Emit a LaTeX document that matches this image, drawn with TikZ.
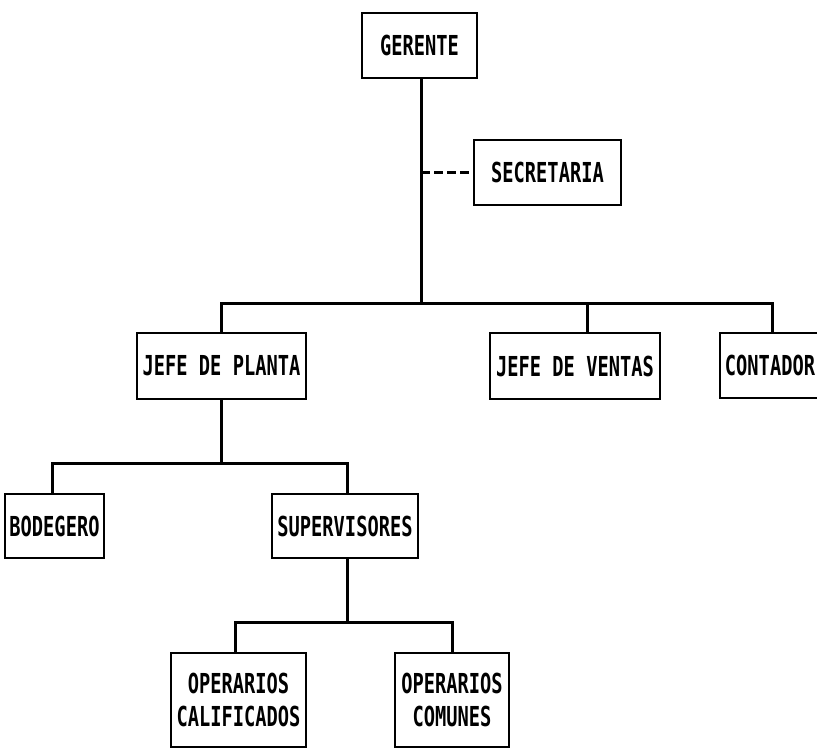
\documentclass[tikz,border=0pt]{standalone}
\usepackage{fontspec}
\newfontfamily\dotfont[FakeStretch=0.68]{DejaVu Sans Mono}
\usetikzlibrary{calc}
\begin{document}
\begin{tikzpicture}[x=1pt,y=-1pt,
  box/.style={draw=black,line width=1.8pt,rectangle,inner sep=0pt,align=center,
    font=\dotfont\bfseries\fontsize{27.5}{33}\selectfont},
  link/.style={line width=3pt,line cap=rect},
  dlink/.style={line width=3pt,dash pattern=on 9pt off 4pt}]
\useasboundingbox (0,0) rectangle (817,749);
% nodes
\node[box,minimum width=115pt,minimum height=65pt] (ger) at (419.5,45.5) {GERENTE};
\node[box,minimum width=147pt,minimum height=65pt] (sec) at (547.5,172.5) {SECRETARIA};
\node[box,minimum width=169pt,minimum height=66pt] (jp) at (221.5,366) {JEFE DE PLANTA};
\node[box,minimum width=170pt,minimum height=66pt] (jv) at (575,366) {JEFE DE VENTAS};
\node[box,minimum width=100pt,minimum height=65pt] (con) at (770,365.5) {CONTADOR};
\node[box,minimum width=99pt,minimum height=64pt] (bod) at (54.5,526) {BODEGERO};
\node[box,minimum width=146pt,minimum height=64pt] (sup) at (345,526) {SUPERVISORES};
\node[box,minimum width=135pt,minimum height=94pt] (opc) at (238.5,700) {OPERARIOS\\CALIFICADOS};
\node[box,minimum width=114pt,minimum height=94pt] (opm) at (452,700) {OPERARIOS\\COMUNES};
% bus levels
\coordinate (b1) at (421,303);
\coordinate (b2) at (222,463);
\coordinate (b3) at (347,622);
% connector attachment points
\coordinate (gs) at ($(ger.south)+(1.5,0)$);
\coordinate (jvn) at ($(jv.north)+(12,0)$);
\coordinate (cn) at ($(con.north)+(2,0)$);
\coordinate (bn) at ($(bod.north)+(-2.5,0)$);
\coordinate (sn) at ($(sup.north)+(2,0)$);
\coordinate (ss) at ($(sup.south)+(2,0)$);
\coordinate (ocn) at ($(opc.north)+(-3.5,0)$);
% level 1
\draw[link] (gs) -- (gs |- b1);
\draw[dlink] (gs |- sec.west) -- (sec.west);
\draw[link] (jp.north) -- (jp.north |- b1) -- (cn |- b1) -- (cn);
\draw[link] (jvn) -- (jvn |- b1);
% level 2
\draw[link] (jp.south) -- (jp.south |- b2);
\draw[link] (bn) -- (bn |- b2) -- (sn |- b2) -- (sn);
% level 3
\draw[link] (ss) -- (ss |- b3);
\draw[link] (ocn) -- (ocn |- b3) -- (opm.north |- b3) -- (opm.north);
\end{tikzpicture}
\end{document}
